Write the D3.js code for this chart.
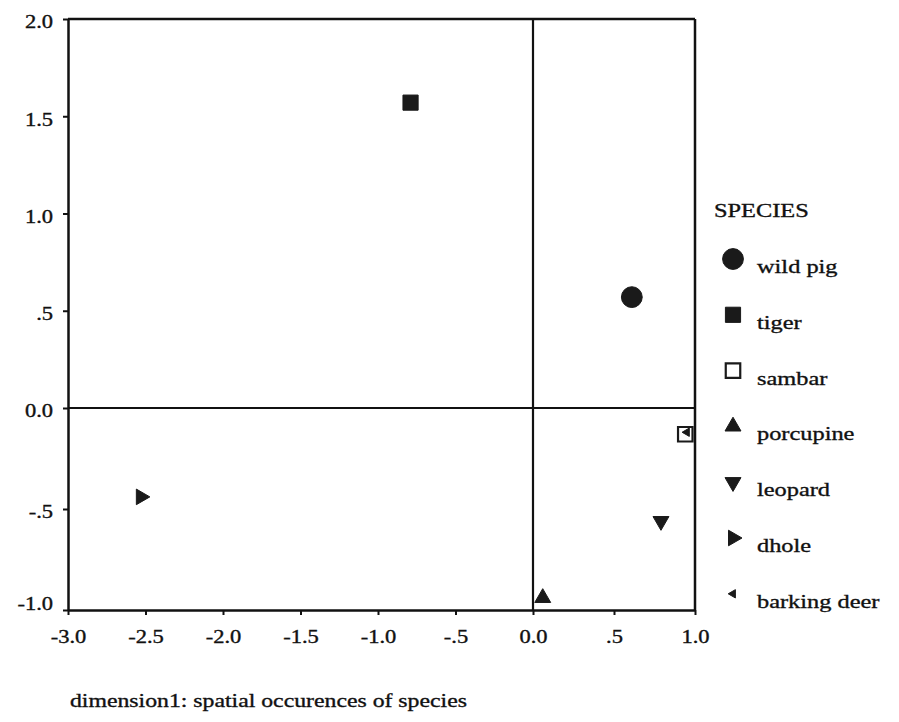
<!DOCTYPE html>
<html>
<head>
<meta charset="utf-8">
<script src="https://cdn.jsdelivr.net/npm/d3@7"></script>
<style>
  html, body { margin: 0; padding: 0; background: #fff; }
  svg { display: block; }
  text { font-family: "Liberation Serif", "DejaVu Serif", serif; fill: #111; stroke: #111; stroke-width: 0.35px; }
</style>
</head>
<body>
<svg id="chart" width="899" height="722"></svg>
<script>
// Species positions on the two MDS dimensions
const species = ["wild pig", "tiger", "sambar", "porcupine", "leopard", "dhole", "barking deer"];
const dim1 = [0.61, -0.79, 0.94, 0.06, 0.79, -2.53, 0.95];
const dim2 = [0.57, 1.57, -0.13, -0.94, -0.56, -0.44, -0.12];

// Axis ticks and their printed labels
const xTicks = [-3, -2.5, -2, -1.5, -1, -0.5, 0, 0.5, 1];
const xTickLabels = ["-3.0", "-2.5", "-2.0", "-1.5", "-1.0", "-.5", "0.0", ".5", "1.0"];
const yTicks = [-1, -0.5, 0, 0.5, 1, 1.5, 2];
const yTickLabels = ["-1.0", "-.5", "0.0", ".5", "1.0", "1.5", "2.0"];

const legendTitle = "SPECIES";
const xTitle = "dimension1: spatial occurences of species";

// Marker style per species: shape, rotation, area, filled?
const markers = {
  "wild pig":     { type: d3.symbolCircle,   rot: 0,   size: 340, fill: true },
  "tiger":        { type: d3.symbolSquare,   rot: 0,   size: 230, fill: true },
  "sambar":       { type: d3.symbolSquare,   rot: 0,   size: 210, fill: false },
  "porcupine":    { type: d3.symbolTriangle, rot: 0,   size: 110, fill: true },
  "leopard":      { type: d3.symbolTriangle, rot: 180, size: 110, fill: true },
  "dhole":        { type: d3.symbolTriangle, rot: 90,  size: 105, fill: true },
  "barking deer": { type: d3.symbolTriangle, rot: -90, size: 30,  fill: true }
};

const SX = 1.25; // horizontal widening of the serif glyphs

const svg = d3.select("#chart");

// Scales (slightly uneven spacing either side of zero)
const x = d3.scaleLinear().domain([-3, 0, 1]).range([68, 533, 695]);
const y = d3.scaleLinear().domain([-1, 0, 2]).range([610, 408, 19]);

const ink = "#111";

// Frame: top and right edges
svg.append("line")
  .attr("x1", x(-3)).attr("x2", x(1)).attr("y1", y(2)).attr("y2", y(2))
  .attr("stroke", ink).attr("stroke-width", 2.5);
svg.append("line")
  .attr("x1", x(1)).attr("x2", x(1)).attr("y1", y(2)).attr("y2", y(-1))
  .attr("stroke", ink).attr("stroke-width", 2.5);

// Zero reference lines
svg.append("line")
  .attr("x1", x(0)).attr("x2", x(0)).attr("y1", y(2)).attr("y2", y(-1))
  .attr("stroke", ink).attr("stroke-width", 2.2);
svg.append("line")
  .attr("x1", x(-3)).attr("x2", x(1)).attr("y1", y(0)).attr("y2", y(0))
  .attr("stroke", ink).attr("stroke-width", 2.2);

// Left axis
const yAxis = svg.append("g")
  .attr("transform", `translate(${x(-3)},0)`)
  .call(d3.axisLeft(y).tickValues(yTicks)
    .tickFormat((d, i) => yTickLabels[i])
    .tickSize(5).tickSizeOuter(0).tickPadding(10));
yAxis.select(".domain").attr("stroke", ink).attr("stroke-width", 2.5);
yAxis.selectAll(".tick line").attr("stroke", ink).attr("stroke-width", 2);
yAxis.selectAll(".tick text")
  .attr("x", -15 / SX).attr("y", d => d === -1 ? -6 : 3)
  .attr("transform", `scale(${SX},1)`)
  .style("font-size", "18px").style("font-family", "Liberation Serif, serif").attr("fill", ink);

// Bottom axis
const xAxis = svg.append("g")
  .attr("transform", `translate(0,${y(-1)})`)
  .call(d3.axisBottom(x).tickValues(xTicks)
    .tickFormat((d, i) => xTickLabels[i])
    .tickSize(5).tickSizeOuter(0).tickPadding(15));
xAxis.select(".domain").attr("stroke", ink).attr("stroke-width", 2.5);
xAxis.selectAll(".tick line").attr("stroke", ink).attr("stroke-width", 2);
xAxis.selectAll(".tick text")
  .attr("transform", `scale(${SX},1)`)
  .style("font-size", "18px").style("font-family", "Liberation Serif, serif").attr("fill", ink);

// Helper for a widened text label
function wideText(g, str, tx, ty, size) {
  return g.append("text")
    .attr("transform", `translate(${tx},${ty}) scale(${SX},1)`)
    .style("font-size", size + "px")
    .text(str);
}

// Axis title
wideText(svg, xTitle, 70, 707, 19);

// Points
const symbolPath = m => d3.symbol().type(m.type).size(m.size)();
const pts = svg.append("g");
species.forEach((s, i) => {
  const m = markers[s];
  pts.append("path")
    .attr("d", symbolPath(m))
    .attr("transform", `translate(${x(dim1[i])},${y(dim2[i])}) rotate(${m.rot})`)
    .attr("fill", m.fill ? "#1a1a1a" : "none")
    .attr("stroke", "#1a1a1a")
    .attr("stroke-width", m.fill ? 1 : 2.2);
});

// Legend
const legend = svg.append("g");
wideText(legend, legendTitle, 714, 217, 19.5);
const rowY = i => 273 + i * 55.8;
species.forEach((s, i) => {
  const m = markers[s];
  legend.append("path")
    .attr("d", symbolPath(m))
    .attr("transform", `translate(733,${rowY(i) - 14}) rotate(${m.rot})`)
    .attr("fill", m.fill ? "#1a1a1a" : "none")
    .attr("stroke", "#1a1a1a")
    .attr("stroke-width", m.fill ? 1 : 2.2);
  wideText(legend, s, 757, rowY(i), 19.5);
});
</script>
</body>
</html>
